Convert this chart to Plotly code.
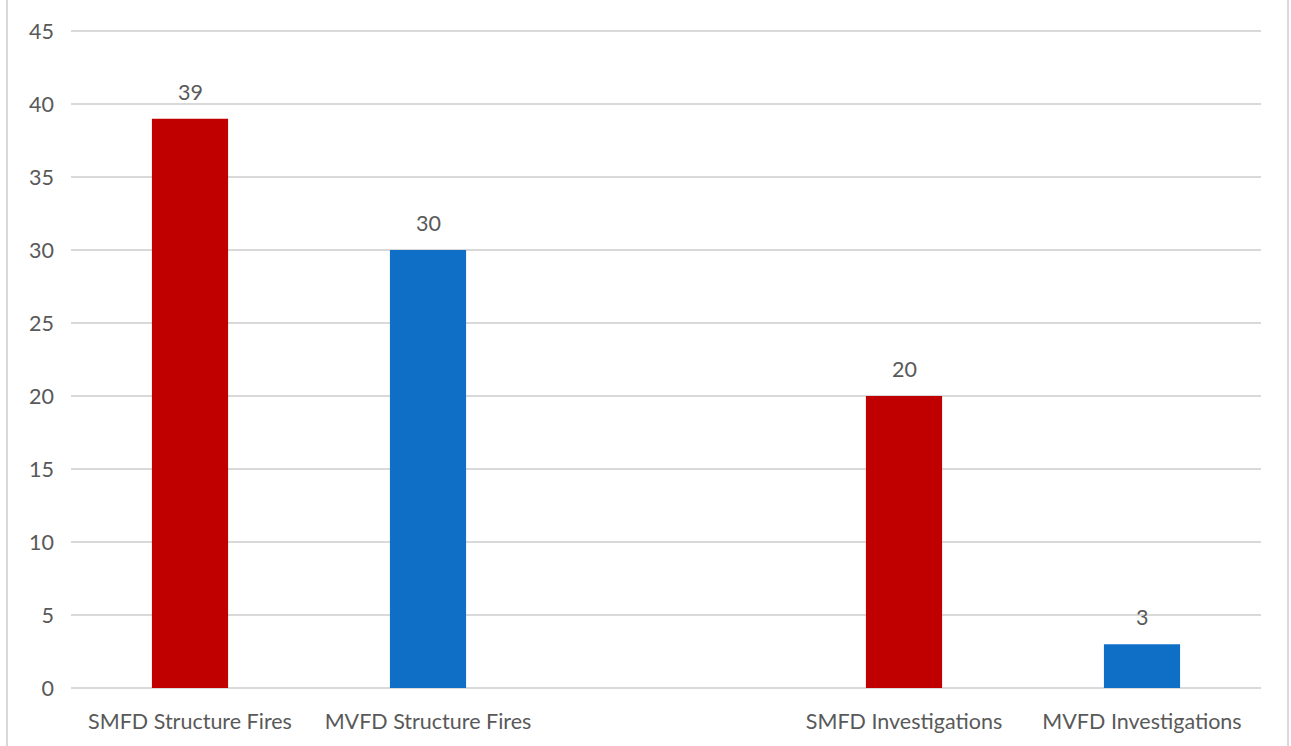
import plotly.graph_objects as go

# Category slots (slot 2 is an intentional empty gap between the two groups)
categories = ["SMFD Structure Fires", "MVFD Structure Fires", "",
              "SMFD Investigations", "MVFD Investigations"]
values = [39, 30, None, 20, 3]
bar_colors = ["#C00000", "#0F6FC6", "#FFFFFF", "#C00000", "#0F6FC6"]
y_ticks = [0, 5, 10, 15, 20, 25, 30, 35, 40, 45]

positions = list(range(len(categories)))
shown = [i for i, v in enumerate(values) if v is not None]

FONT = "Lato, Open Sans, sans-serif"
TXT = "#595959"
SIZE = 21.5

fig = go.Figure()
fig.add_trace(go.Bar(
    x=[positions[i] for i in shown],
    y=[values[i] for i in shown],
    marker=dict(color=[bar_colors[i] for i in shown], line=dict(width=0)),
    width=0.32,
    hoverinfo="x+y",
))

# Value labels above each bar
for i in shown:
    fig.add_annotation(
        x=positions[i], y=values[i], text=str(values[i]),
        showarrow=False, yanchor="bottom", yshift=12,
        font=dict(family=FONT, size=SIZE, color=TXT),
    )

# Light frame lines at the left and right edges of the page
for px in (7, 1288):
    xp = (px - 71) / 1190
    fig.add_shape(type="line", xref="paper", yref="paper",
                  x0=xp, x1=xp, y0=-0.09, y1=1.05,
                  line=dict(color="#D9D9D9", width=2), layer="below")

fig.update_layout(
    width=1291, height=746,
    margin=dict(l=71, r=30, t=30, b=58),
    paper_bgcolor="white", plot_bgcolor="white",
    showlegend=False,
    font=dict(family=FONT, size=SIZE, color=TXT),
    xaxis=dict(
        tickmode="array",
        tickvals=[positions[i] for i in shown],
        ticktext=[categories[i] for i in shown],
        range=[-0.5, len(categories) - 0.5],
        showgrid=False, zeroline=False, showline=False,
        ticks="", ticklabelstandoff=18,
        tickfont=dict(family=FONT, size=SIZE, color=TXT),
        fixedrange=True,
    ),
    yaxis=dict(
        range=[0, 45.08], tickvals=y_ticks,
        showgrid=True, gridcolor="#D9D9D9", gridwidth=2,
        zeroline=True, zerolinecolor="#D9D9D9", zerolinewidth=2,
        showline=False, ticks="", ticklabelstandoff=16,
        tickfont=dict(family=FONT, size=SIZE, color=TXT),
        fixedrange=True,
    ),
)

fig.write_html("out.html")
